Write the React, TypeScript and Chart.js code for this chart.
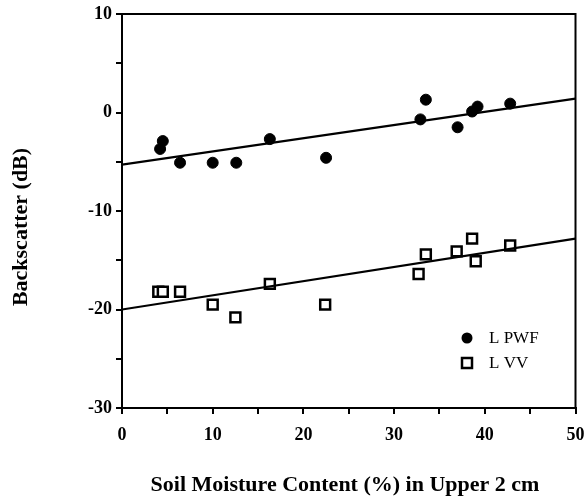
import React, { useEffect, useRef } from "react";
import { Chart, registerables } from "chart.js";

Chart.register(...registerables);

// Soil moisture (%) and backscatter (dB)
const pwfX = [4.2, 4.5, 6.4, 10.0, 12.6, 16.3, 22.5, 32.9, 33.5, 37.0, 38.6, 39.2, 42.8];
const pwfY = [-3.7, -2.9, -5.1, -5.1, -5.1, -2.7, -4.6, -0.7, 1.3, -1.5, 0.1, 0.6, 0.9];
const vvX = [4.0, 4.5, 6.4, 10.0, 12.5, 16.3, 22.4, 32.7, 33.5, 36.9, 38.6, 39.0, 42.8];
const vvY = [-18.2, -18.2, -18.2, -19.5, -20.8, -17.4, -19.5, -16.4, -14.4, -14.1, -12.8, -15.1, -13.5];
// fitted lines: end points
const fitX = [0, 50];
const pwfFitY = [-5.3, 1.4];
const vvFitY = [-20.0, -12.8];

const xTicks = [0, 10, 20, 30, 40, 50];
const yTicks = [10, 0, -10, -20, -30];
const seriesNames = ["L PWF", "L VV"];
const xTitle = "Soil Moisture Content (%) in Upper 2 cm";
const yTitle = "Backscatter (dB)";

const SERIF = "'Liberation Serif', 'Times New Roman', serif";

export default function App() {
  const ref = useRef<HTMLCanvasElement | null>(null);
  useEffect(() => {
    document.body.style.margin = "0";
    const canvas = ref.current!;
    const decor = {
      id: "decor",
      afterDraw(chart: any) {
        const ctx = chart.ctx;
        const a = chart.chartArea;
        ctx.save();
        ctx.strokeStyle = "#000";
        ctx.lineWidth = 2;
        ctx.strokeRect(a.left, a.top, a.right - a.left, a.bottom - a.top);
        ctx.fillStyle = "#000";
        ctx.font = `bold 22px ${SERIF}`;
        ctx.textAlign = "center";
        ctx.textBaseline = "alphabetic";
        ctx.fillText(xTitle, 345, 491);
        ctx.save();
        ctx.translate(21, 227);
        ctx.rotate(-Math.PI / 2);
        ctx.textBaseline = "middle";
        ctx.fillText(yTitle, 0, 0);
        ctx.restore();
        // legend
        ctx.font = `17px ${SERIF}`;
        ctx.textAlign = "left";
        ctx.textBaseline = "middle";
        ctx.beginPath();
        ctx.arc(467, 338, 5.5, 0, Math.PI * 2);
        ctx.fill();
        ctx.fillText(seriesNames[0], 489, 339);
        ctx.lineWidth = 2.5;
        ctx.fillStyle = "#fff";
        ctx.fillRect(462, 358, 10, 10);
        ctx.strokeRect(462, 358, 10, 10);
        ctx.fillStyle = "#000";
        ctx.fillText(seriesNames[1], 489, 364);
        ctx.restore();
      },
    };
    const chart = new Chart(canvas, {
      type: "scatter",
      data: {
        datasets: [
          {
            label: seriesNames[0] + " fit",
            type: "line",
            data: fitX.map((x, i) => ({ x, y: pwfFitY[i] })),
            borderColor: "#000",
            borderWidth: 2.2,
            pointRadius: 0,
            fill: false,
          },
          {
            label: seriesNames[1] + " fit",
            type: "line",
            data: fitX.map((x, i) => ({ x, y: vvFitY[i] })),
            borderColor: "#000",
            borderWidth: 2.2,
            pointRadius: 0,
            fill: false,
          },
          {
            label: seriesNames[0],
            data: pwfX.map((x, i) => ({ x, y: pwfY[i] })),
            pointStyle: "circle",
            pointRadius: 5.5,
            backgroundColor: "#000",
            borderColor: "#000",
            borderWidth: 1,
          },
          {
            label: seriesNames[1],
            data: vvX.map((x, i) => ({ x, y: vvY[i] })),
            pointStyle: "rect",
            pointRadius: 7,
            backgroundColor: "#fff",
            borderColor: "#000",
            borderWidth: 2.5,
          },
        ],
      },
      options: {
        animation: false,
        responsive: false,
        maintainAspectRatio: false,
        layout: { padding: { top: 14, right: 6, left: 0, bottom: 0 } },
        plugins: { legend: { display: false }, tooltip: { enabled: false } },
        scales: {
          x: {
            type: "linear",
            min: 0,
            max: 50,
            afterFit: (s: any) => {
              s.height = 90;
              s.paddingLeft = 0;
              s.paddingRight = 0;
            },
            afterBuildTicks: (s: any) => {
              const t: any[] = [];
              for (let v = 0; v <= 50; v += 5) t.push({ value: v });
              s.ticks = t;
            },
            ticks: {
              color: "#000",
              font: { family: SERIF, size: 18, weight: "bold" },
              padding: 11,
              maxRotation: 0,
              autoSkip: false,
              callback: (v: any) => (xTicks.includes(v) ? String(v) : ""),
            },
            grid: { drawOnChartArea: false, tickLength: 6, color: "#000", lineWidth: 2 },
            border: { color: "#000", width: 2 },
          },
          y: {
            type: "linear",
            min: -30,
            max: 10,
            afterFit: (s: any) => {
              s.width = 122;
              s.paddingTop = 0;
              s.paddingBottom = 0;
            },
            afterBuildTicks: (s: any) => {
              const t: any[] = [];
              for (let v = -30; v <= 10; v += 5) t.push({ value: v });
              s.ticks = t;
            },
            ticks: {
              color: "#000",
              font: { family: SERIF, size: 18, weight: "bold" },
              padding: 4,
              autoSkip: false,
              callback: (v: any) => (yTicks.includes(v) ? String(v) : ""),
            },
            grid: { drawOnChartArea: false, tickLength: 6, color: "#000", lineWidth: 2 },
            border: { color: "#000", width: 2 },
          },
        },
      },
      plugins: [decor],
    });
    return () => chart.destroy();
  }, []);
  return (
    <div style={{ position: "relative", width: 585, height: 498, background: "#fff" }}>
      <canvas ref={ref} width={585} height={498} style={{ display: "block" }} />
    </div>
  );
}
